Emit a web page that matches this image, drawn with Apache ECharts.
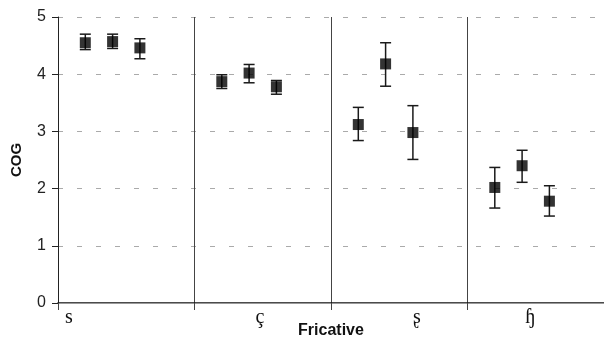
<!DOCTYPE html>
<html>
<head>
<meta charset="utf-8">
<script src="https://cdn.jsdelivr.net/npm/echarts@6/dist/echarts.min.js"></script>
<style>
html,body{margin:0;padding:0;background:#fff;}
#chart{width:604px;height:339px;}
</style>
</head>
<body>
<div id="chart"></div>
<script>
// Fricative categories (IPA)
const fricatives = ['s', 'ç', 'ʂ', 'ɧ'];
// three conditions per fricative (within-group offsets in category units)
const conditionOffsets = [0.2, 0.4, 0.6];
// mean COG values per fricative (rows) x condition (cols)
const cogMean = [
  [4.55, 4.57, 4.46],
  [3.87, 4.02, 3.78],
  [3.12, 4.18, 2.98],
  [2.02, 2.40, 1.78]
];
const cogLow = [
  [4.43, 4.45, 4.27],
  [3.75, 3.85, 3.65],
  [2.84, 3.79, 2.51],
  [1.66, 2.11, 1.52]
];
const cogHigh = [
  [4.70, 4.70, 4.62],
  [3.99, 4.17, 3.89],
  [3.42, 4.55, 3.45],
  [2.37, 2.67, 2.05]
];
const yTicks = [0, 1, 2, 3, 4, 5];
// label anchor positions along the x axis (category units)
const labelX = [0.08, 1.48, 2.63, 3.46];

const pts = [], bars = [];
fricatives.forEach((f, i) => {
  conditionOffsets.forEach((o, j) => {
    pts.push([i + o, cogMean[i][j]]);
    bars.push([i + o, cogLow[i][j], cogHigh[i][j]]);
  });
});

const chart = echarts.init(document.getElementById('chart'));
const option = {
  animation: false,
  backgroundColor: '#fff',
  grid: { left: 58, right: -4, top: 17, bottom: 36 },
  xAxis: [{
    type: 'value', min: 0, max: fricatives.length, interval: 1,
    axisLine: { show: true, onZero: false, lineStyle: { color: '#111', width: 1.5 } },
    axisTick: { show: true, length: 7, lineStyle: { color: '#444', width: 1 } },
    axisLabel: { show: false },
    splitLine: { show: true, lineStyle: { color: '#444', width: 1 } }
  }, {
    type: 'value', min: 0, max: fricatives.length, position: 'top',
    axisLine: { show: true, lineStyle: { color: '#999', width: 1 } },
    axisTick: { show: false }, axisLabel: { show: false }, splitLine: { show: false }
  }],
  yAxis: {
    type: 'value', min: yTicks[0], max: yTicks[yTicks.length - 1], interval: 1,
    name: 'COG', nameLocation: 'middle', nameGap: 34,
    nameTextStyle: { fontFamily: 'Liberation Sans', fontWeight: 'bold', fontSize: 15, color: '#111' },
    axisLine: { show: true, lineStyle: { color: '#222', width: 1 } },
    axisTick: { show: true, length: 6, lineStyle: { color: '#222' } },
    axisLabel: { fontFamily: 'Liberation Sans', fontSize: 16, color: '#222', margin: 12 },
    splitLine: { show: true, lineStyle: { color: '#aaa', type: [5, 14], width: 1 } }
  },
  series: [{
    type: 'custom',
    data: bars,
    z: 3,
    renderItem: function (params, api) {
      const x = api.value(0);
      const lo = api.coord([x, api.value(1)]);
      const hi = api.coord([x, api.value(2)]);
      const hw = 5.5;
      const st = { stroke: '#1a1a1a', lineWidth: 1.5 };
      return {
        type: 'group',
        children: [
          { type: 'line', shape: { x1: lo[0], y1: lo[1], x2: hi[0], y2: hi[1] }, style: st },
          { type: 'line', shape: { x1: lo[0] - hw, y1: lo[1], x2: lo[0] + hw, y2: lo[1] }, style: st },
          { type: 'line', shape: { x1: hi[0] - hw, y1: hi[1], x2: hi[0] + hw, y2: hi[1] }, style: st }
        ]
      };
    }
  }, {
    type: 'scatter',
    data: pts,
    symbol: 'rect',
    symbolSize: 11,
    z: 4,
    itemStyle: { color: '#000' }
  }]
};
chart.setOption(option);

const g = fricatives.map((f, i) => {
  const px = chart.convertToPixel({ xAxisIndex: 0 }, labelX[i]);
  return {
    type: 'text', x: px, y: 318,
    style: { text: f, fontFamily: 'Liberation Serif', fontSize: 20, fill: '#111', align: 'center', verticalAlign: 'middle' }
  };
});
g.push({
  type: 'text', x: chart.convertToPixel({ xAxisIndex: 0 }, 2), y: 331,
  style: { text: 'Fricative', fontFamily: 'Liberation Sans', fontWeight: 'bold', fontSize: 16, fill: '#111', align: 'center', verticalAlign: 'middle' }
});
chart.setOption({ graphic: g });
</script>
</body>
</html>
